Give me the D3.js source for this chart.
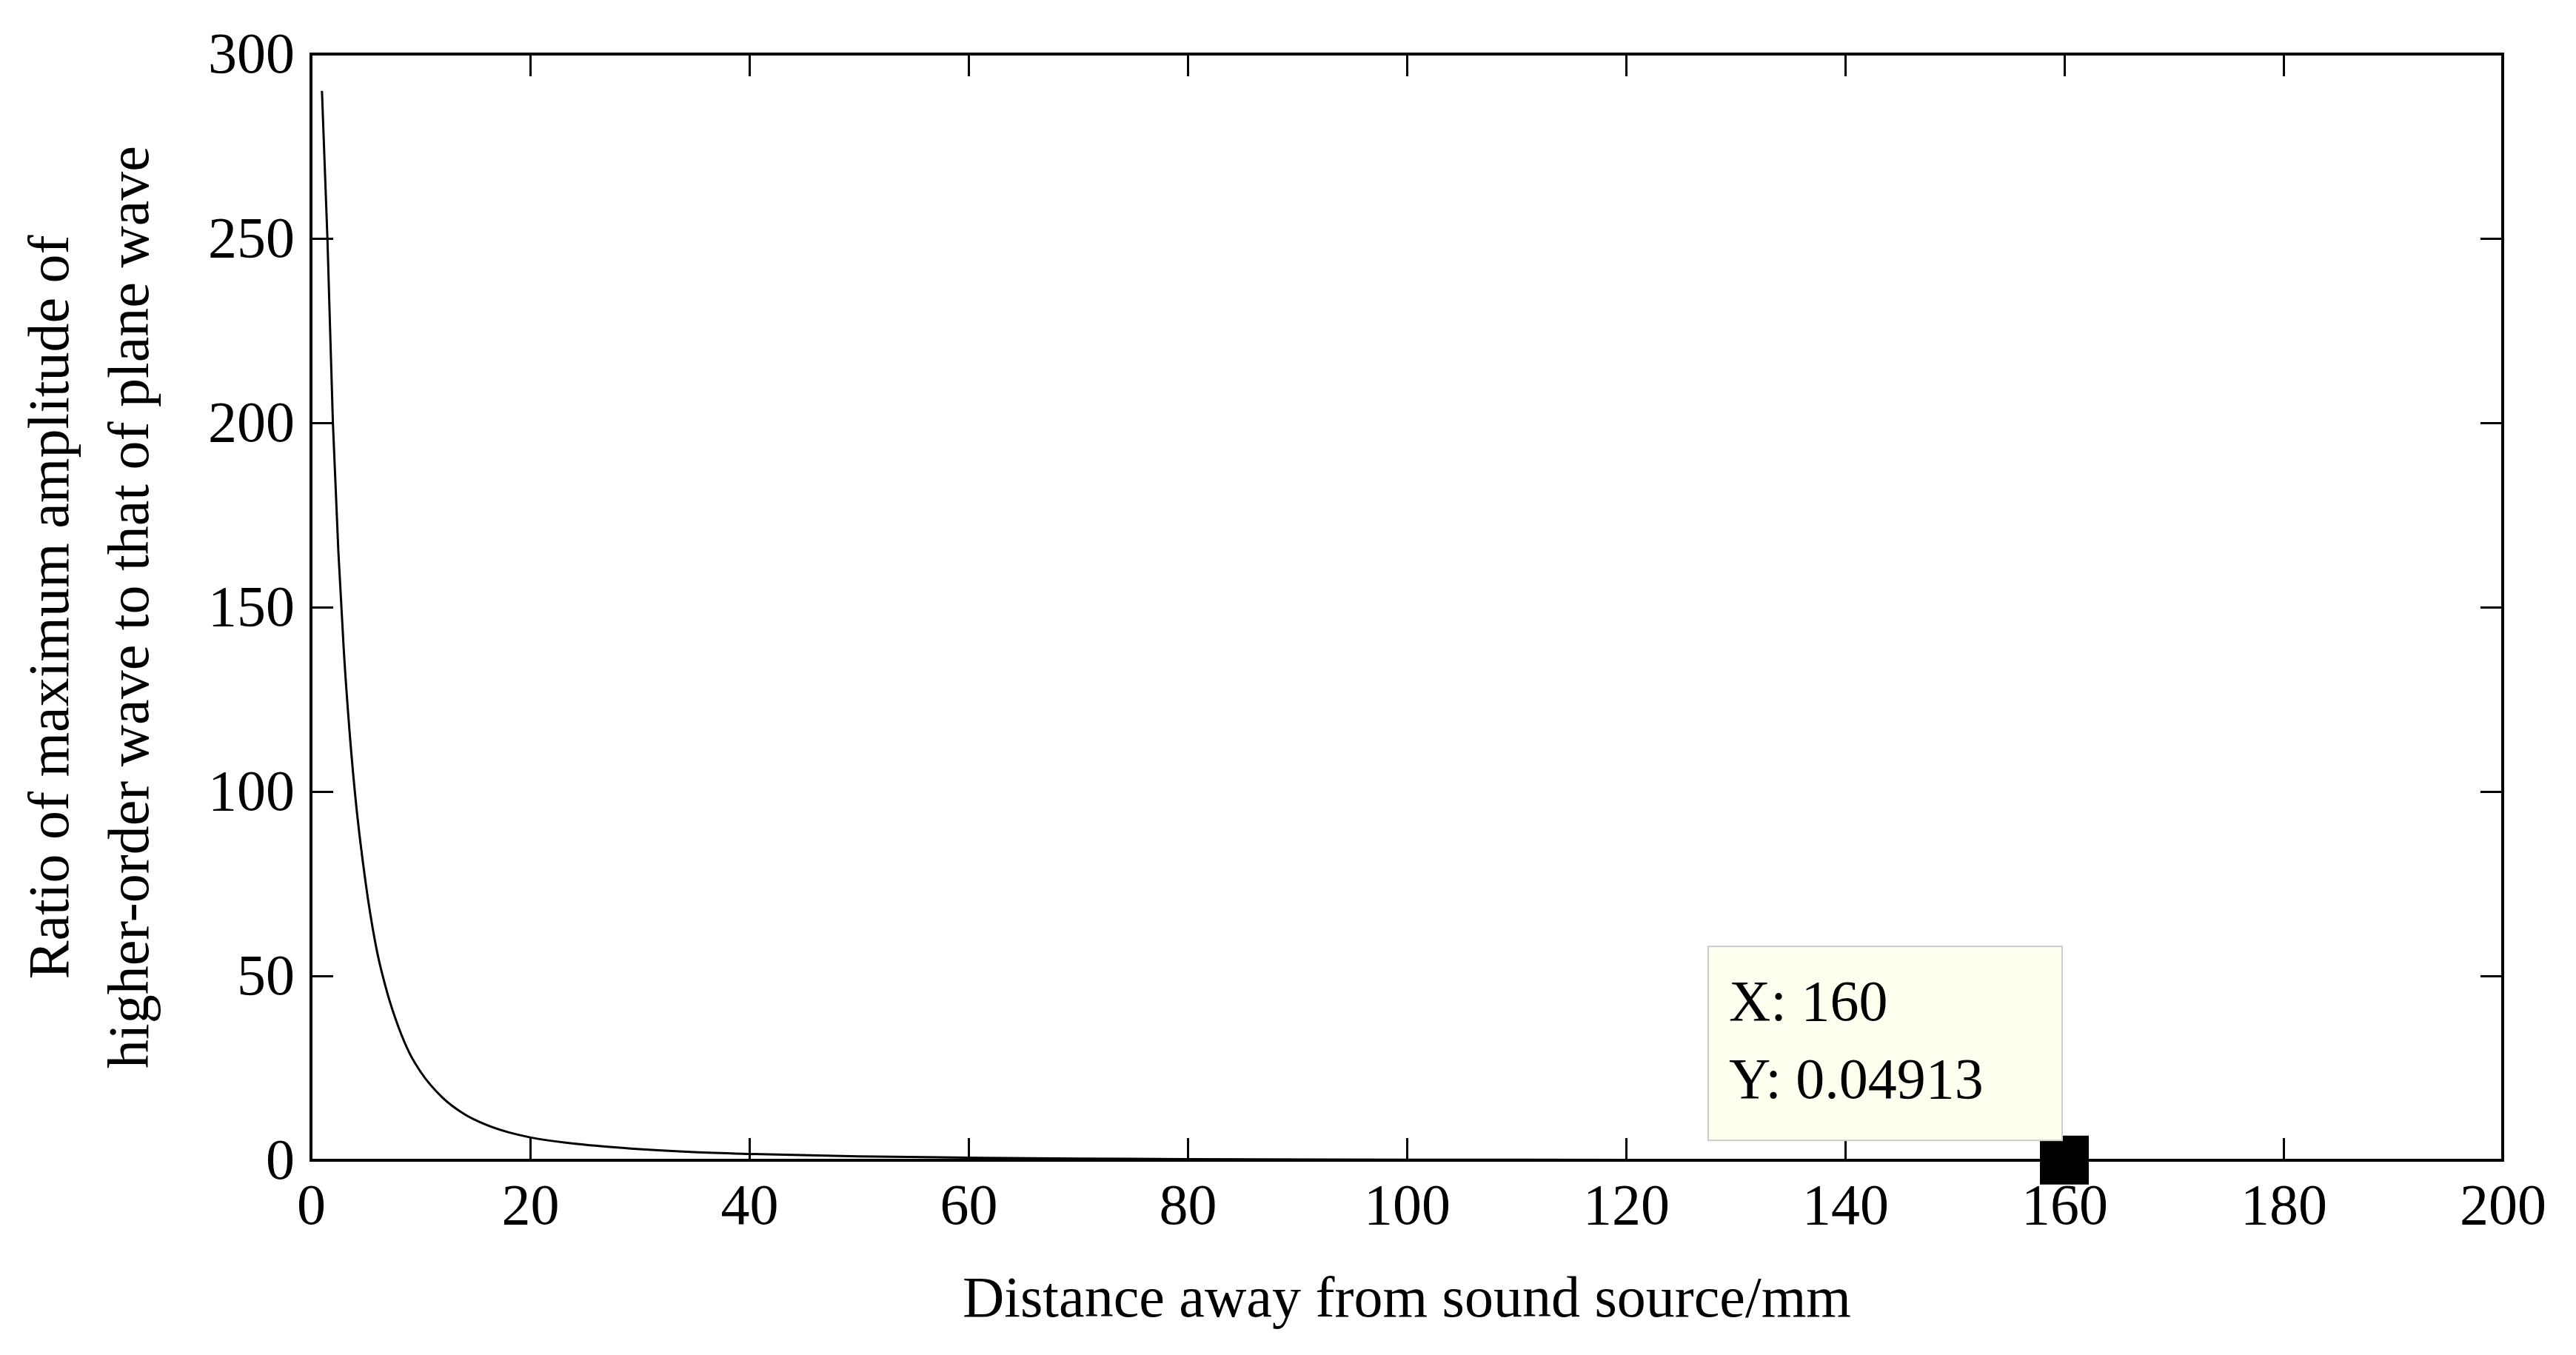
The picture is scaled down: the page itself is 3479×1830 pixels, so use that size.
<!DOCTYPE html>
<html lang="en">
  <head>
    <meta charset="UTF-8" />
    <script src="https://d3js.org/d3.v7.min.js"></script>
    <style>
      body { margin: 0; background: #fff; }
      text { font-family: 'Liberation Serif', serif; fill: #000; }
    </style>
  </head>
  <body>
    <div id="chart"></div>
    <script>
      // distance (mm) and amplitude ratio
      const distance = [1, 1.5, 2, 2.5, 3, 3.5, 4, 5, 6, 7, 8, 9, 10, 12, 14, 16, 18, 20, 25, 30, 35, 40, 50, 60, 70, 80, 100, 120, 140, 160, 180, 200];
      const ratio = [290, 250, 200, 165, 138, 117, 100, 75, 57, 45, 36, 29, 24, 17, 12.5, 9.6, 7.6, 6.2, 4.2, 3.0, 2.2, 1.7, 1.05, 0.7, 0.45, 0.32, 0.17, 0.1, 0.07, 0.04913, 0.035, 0.025];
      const xTicks = [0, 20, 40, 60, 80, 100, 120, 140, 160, 180, 200];
      const yTicks = [0, 50, 100, 150, 200, 250, 300];
      const tip = { x: 160, y: 0.04913 };

      const W = 3479, H = 1830;
      const margin = { top: 73, right: 99, bottom: 263, left: 420 };
      const width = W - margin.left - margin.right;
      const height = H - margin.top - margin.bottom;

      const svg = d3.select('#chart').append('svg')
        .attr('width', W).attr('height', H);
      const g = svg.append('g')
        .attr('transform', `translate(${margin.left},${margin.top})`);

      const x = d3.scaleLinear().domain([0, 200]).range([0, width]);
      const y = d3.scaleLinear().domain([0, 300]).range([height, 0]);
      const tick = 30;

      // box-style axes with inward ticks on all sides
      const styleAxis = (sel) => {
        sel.select('.domain').remove();
        sel.selectAll('line').attr('stroke', '#000').attr('stroke-width', 3);
        sel.selectAll('text').style('font-size', '78px');
      };
      g.append('g').attr('transform', `translate(0,${height})`)
        .call(d3.axisBottom(x).tickValues(xTicks).tickSize(-tick).tickPadding(20))
        .call(styleAxis)
        .selectAll('text').attr('dy', '0.85em');
      g.append('g').attr('transform', 'translate(0,0)')
        .call(d3.axisTop(x).tickValues(xTicks).tickSize(-tick).tickFormat(''))
        .call(styleAxis);
      g.append('g')
        .call(d3.axisLeft(y).tickValues(yTicks).tickSize(-tick).tickPadding(22))
        .call(styleAxis);
      g.append('g').attr('transform', `translate(${width},0)`)
        .call(d3.axisRight(y).tickValues(yTicks).tickSize(-tick).tickFormat(''))
        .call(styleAxis);

      g.append('rect').attr('width', width).attr('height', height)
        .attr('fill', 'none').attr('stroke', '#000').attr('stroke-width', 4);

      const line = d3.line()
        .x((d, i) => x(distance[i]))
        .y((d) => y(d))
        .curve(d3.curveMonotoneX);
      g.append('path').datum(ratio).attr('d', line)
        .attr('fill', 'none').attr('stroke', '#000').attr('stroke-width', 3);

      // data tip
      const mx = x(tip.x), my = y(tip.y);
      g.append('rect').attr('x', mx - 33).attr('y', my - 33)
        .attr('width', 66).attr('height', 66).attr('fill', '#000');
      const bx = x(127.5), by = y(58);
      g.append('rect').attr('x', bx).attr('y', by)
        .attr('width', 478).attr('height', 262)
        .attr('fill', '#ffffef').attr('stroke', '#ccc').attr('stroke-width', 2);
      g.append('text').attr('x', bx + 28).attr('y', by + 100)
        .style('font-size', '78px').text(`X: ${tip.x}`);
      g.append('text').attr('x', bx + 28).attr('y', by + 205)
        .style('font-size', '78px').text(`Y: ${tip.y}`);

      // axis labels
      svg.append('text').attr('x', margin.left + width / 2).attr('y', 1778)
        .attr('text-anchor', 'middle').style('font-size', '78px')
        .text('Distance away from sound source/mm');
      const yl = svg.append('text')
        .attr('transform', `translate(0,${margin.top + height / 2}) rotate(-90)`)
        .attr('text-anchor', 'middle').style('font-size', '78px');
      yl.append('tspan').attr('x', 0).attr('y', 92)
        .text('Ratio of maximum amplitude of');
      yl.append('tspan').attr('x', 0).attr('y', 200)
        .text('higher-order wave to that of plane wave');
    </script>
  </body>
</html>
